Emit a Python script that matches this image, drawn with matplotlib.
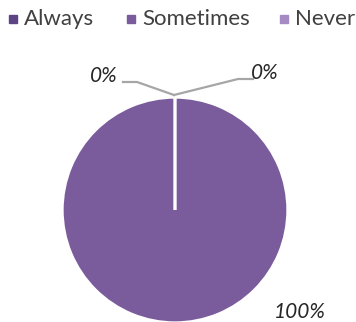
import matplotlib
matplotlib.use("Agg")
import matplotlib.pyplot as plt

categories = ["Always", "Sometimes", "Never"]
values = [0, 100, 0]
colors = ["#5d4485", "#7a5c9c", "#a58ac4"]

W, H = 356, 322
fig = plt.figure(figsize=(W / 100, H / 100), dpi=100)
ax = fig.add_axes([0, 0, 1, 1])

# pixel-like coordinates, y up
cx, cy, r = 175, H - 210, 113
wedges, _ = ax.pie(values, colors=colors, startangle=90, counterclock=False,
                   center=(cx, cy), radius=r, frame=True,
                   wedgeprops=dict(edgecolor="white", linewidth=2.4))
ax.set_xlim(0, W)
ax.set_ylim(0, H)
ax.set_aspect("equal")
ax.axis("off")

# leader lines for the 0% slices
top = (cx - 1, cy + r + 2)
ax.plot([123, 137, top[0]], [H - 82, H - 82, top[1]], color="#a6a6a6", lw=1.6)
ax.plot([top[0], 238, 253], [top[1], H - 79, H - 79], color="#a6a6a6", lw=1.6)

lab = dict(fontsize=15, style="italic", color="#262626", family="Lato")
ax.text(118, H - 76, f"{values[0]}%", ha="right", va="center", **lab)
ax.text(251, H - 73, f"{values[2]}%", ha="left", va="center", **lab)
ax.text(300, H - 312, f"{values[1]}%", ha="center", va="center", **lab)

# legend row at the top, laid out by hand
leg_x = [13, 131, 284]
for x, c, name in zip(leg_x, colors, categories):
    ax.plot(x, H - 19, marker="s", ms=6, color=c, ls="")
    ax.text(x + 11, H - 19, name, ha="left", va="center", fontsize=16,
            family="Lato", color="#404040")

fig.savefig("out.png", dpi=100)
